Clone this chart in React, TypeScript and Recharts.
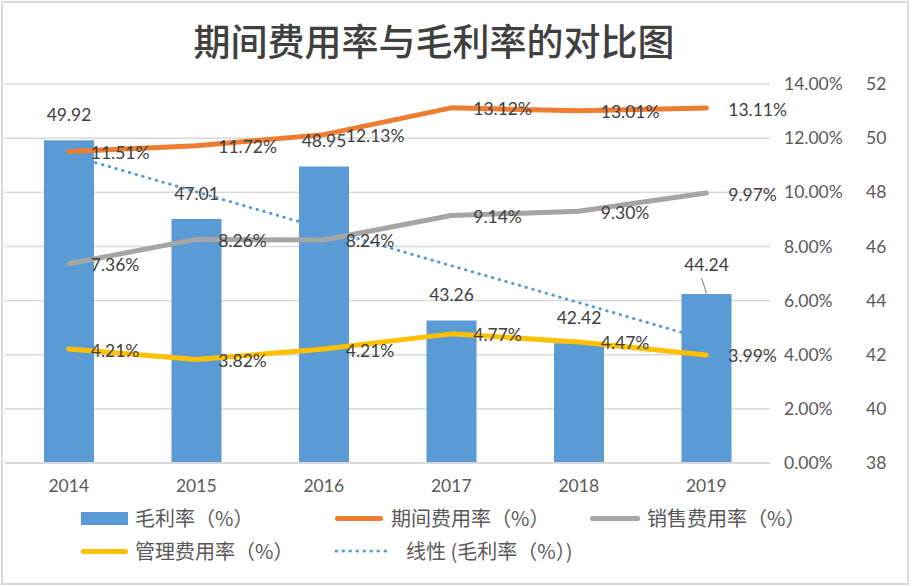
import React from 'react';
import { ComposedChart, Bar, Line, XAxis, YAxis, CartesianGrid, LabelList } from 'recharts';

const years = ['2014', '2015', '2016', '2017', '2018', '2019'];
const grossMargin = [49.92, 47.01, 48.95, 43.26, 42.42, 44.24];
const periodExpense = [11.51, 11.72, 12.13, 13.12, 13.01, 13.11];
const salesExpense = [7.36, 8.26, 8.24, 9.14, 9.3, 9.97];
const adminExpense = [4.21, 3.82, 4.21, 4.77, 4.47, 3.99];
const grossTrend = [49.38, null, null, null, null, 42.56];
const pctTicks = [0, 2, 4, 6, 8, 10, 12, 14];
const gmTicks = [38, 40, 42, 44, 46, 48, 50, 52];

const title = '期间费用率与毛利率的对比图';
const seriesNames = {
  gm: '毛利率（%）',
  period: '期间费用率（%）',
  sales: '销售费用率（%）',
  admin: '管理费用率（%）',
  trend: '线性 (毛利率（%）)',
};

const COLORS = {
  gm: '#5B9BD5',
  period: '#ED7D31',
  sales: '#A5A5A5',
  admin: '#FFC000',
  trend: '#5B9BD5',
};

const PCT_AXIS = 'a_pct';
const GM_AXIS = 'b_gm';

const data = years.map((y, i) => ({
  year: y,
  gm: grossMargin[i],
  period: periodExpense[i],
  sales: salesExpense[i],
  admin: adminExpense[i],
  trend: grossTrend[i],
}));

const NUM_FONT = 'Lato, "Noto Sans CJK SC", sans-serif';
const CJK_FONT = '"Noto Sans CJK SC", sans-serif';

const lineLabel = (props: any) => {
  const x = props.x ?? props.viewBox?.x;
  const y = props.y ?? props.viewBox?.y;
  const v = Number(props.value);
  return (
    <text x={x + 22} y={y + 1} dominantBaseline="central" fill="#404040" fontSize={17.5} fontFamily={NUM_FONT}>
      {v.toFixed(2) + '%'}
    </text>
  );
};

const barLabel = (props: any) => {
  const { x, y, width, value, index } = props;
  const cx = x + width / 2;
  const last = index === grossMargin.length - 1;
  const cy = last ? y - 30 : y - 26;
  return (
    <g>
      {last && <line x1={cx - 5} y1={y - 16} x2={cx} y2={y - 1} stroke="#8c8c8c" strokeWidth={1.2} />}
      <text x={cx} y={cy} textAnchor="middle" dominantBaseline="central" fill="#404040" fontSize={17.5} fontFamily={NUM_FONT}>
        {Number(value).toFixed(2)}
      </text>
    </g>
  );
};

const legendText: React.CSSProperties = {
  position: 'absolute',
  fontFamily: CJK_FONT,
  fontSize: 20,
  color: '#595959',
  lineHeight: '24px',
  whiteSpace: 'nowrap',
};

function LegendBlock() {
  const row1 = 518;
  const row2 = 551;
  return (
    <div style={{ position: 'absolute', left: 0, top: 0, width: 913, height: 586, pointerEvents: 'none' }}>
      <div style={{ position: 'absolute', left: 81, top: row1 - 6.5, width: 47, height: 13, background: COLORS.gm }} />
      <div style={{ ...legendText, left: 135, top: row1 - 12 }}>{seriesNames.gm}</div>

      <div style={{ position: 'absolute', left: 335, top: row1 - 2.5, width: 48, height: 5, borderRadius: 3, background: COLORS.period }} />
      <div style={{ ...legendText, left: 391, top: row1 - 12 }}>{seriesNames.period}</div>

      <div style={{ position: 'absolute', left: 590, top: row1 - 2.5, width: 50, height: 5, borderRadius: 3, background: COLORS.sales }} />
      <div style={{ ...legendText, left: 647, top: row1 - 12 }}>{seriesNames.sales}</div>

      <div style={{ position: 'absolute', left: 81, top: row2 - 2.5, width: 47, height: 5, borderRadius: 3, background: COLORS.admin }} />
      <div style={{ ...legendText, left: 135, top: row2 - 12 }}>{seriesNames.admin}</div>

      <svg style={{ position: 'absolute', left: 333, top: row2 - 4 }} width={60} height={8}>
        <line x1={3} y1={4} x2={58} y2={4} stroke={COLORS.trend} strokeWidth={3} strokeLinecap="round" strokeDasharray="0.5 6.5" />
      </svg>
      <div style={{ ...legendText, left: 406, top: row2 - 12 }}>{seriesNames.trend}</div>
    </div>
  );
}

export default function App() {
  return (
    <div style={{ position: 'absolute', left: 0, top: 0, width: 913, height: 586, background: '#fff', overflow: 'hidden' }}>
      <div
        style={{
          position: 'absolute',
          left: 1,
          top: 1,
          width: 904,
          height: 580,
          border: '2px solid #d9d9d9',
        }}
      />
      <div
        style={{
          position: 'absolute',
          left: 0,
          width: 868,
          top: 20,
          textAlign: 'center',
          fontFamily: CJK_FONT,
          fontSize: 37,
          fontWeight: 500,
          lineHeight: '40px',
          color: '#404040',
          whiteSpace: 'nowrap',
        }}
      >
        {title}
      </div>
      <div style={{ position: 'absolute', left: 0, top: 0 }}>
        <ComposedChart
          width={913}
          height={586}
          data={data}
          margin={{ top: 84, right: 15, bottom: 93, left: 5 }}
        >
          <CartesianGrid yAxisId={PCT_AXIS} vertical={false} stroke="#D9D9D9" strokeWidth={1.5} />
          <XAxis
            dataKey="year"
            height={30}
            axisLine={{ stroke: '#D9D9D9', strokeWidth: 2 }}
            tickLine={false}
            tickSize={0}
            tickMargin={17}
            tick={{ fill: '#595959', fontSize: 17.5, fontFamily: NUM_FONT }}
            interval={0}
          />
          <YAxis
            yAxisId={PCT_AXIS}
            orientation="right"
            domain={[0, 14]}
            ticks={pctTicks}
            tickFormatter={(v: number) => v.toFixed(2) + '%'}
            axisLine={false}
            tickLine={false}
            tickSize={0}
            tickMargin={14}
            width={88}
            tick={{ fill: '#595959', fontSize: 17.5, fontFamily: NUM_FONT, textAnchor: 'start' }}
            interval={0}
          />
          <YAxis
            yAxisId={GM_AXIS}
            orientation="right"
            domain={[38, 52]}
            ticks={gmTicks}
            axisLine={false}
            tickLine={false}
            tickSize={0}
            tickMargin={8}
            width={40}
            tick={{ fill: '#595959', fontSize: 17.5, fontFamily: NUM_FONT, textAnchor: 'start' }}
            interval={0}
          />
          <Line
            yAxisId={GM_AXIS}
            dataKey="trend"
            type="linear"
            connectNulls
            stroke={COLORS.trend}
            strokeWidth={3}
            strokeLinecap="round"
            strokeDasharray="0.5 6.5"
            dot={false}
            activeDot={false}
            isAnimationActive={false}
          />
          <Bar yAxisId={GM_AXIS} dataKey="gm" fill={COLORS.gm} barSize={50} isAnimationActive={false}>
            <LabelList dataKey="gm" content={barLabel} />
          </Bar>
          <Line
            yAxisId={PCT_AXIS}
            dataKey="period"
            type="linear"
            stroke={COLORS.period}
            strokeWidth={5}
            strokeLinecap="round"
            strokeLinejoin="round"
            dot={false}
            activeDot={false}
            isAnimationActive={false}
          >
            <LabelList dataKey="period" content={lineLabel} />
          </Line>
          <Line
            yAxisId={PCT_AXIS}
            dataKey="sales"
            type="linear"
            stroke={COLORS.sales}
            strokeWidth={5}
            strokeLinecap="round"
            strokeLinejoin="round"
            dot={false}
            activeDot={false}
            isAnimationActive={false}
          >
            <LabelList dataKey="sales" content={lineLabel} />
          </Line>
          <Line
            yAxisId={PCT_AXIS}
            dataKey="admin"
            type="linear"
            stroke={COLORS.admin}
            strokeWidth={5}
            strokeLinecap="round"
            strokeLinejoin="round"
            dot={false}
            activeDot={false}
            isAnimationActive={false}
          >
            <LabelList dataKey="admin" content={lineLabel} />
          </Line>
        </ComposedChart>
      </div>
      <LegendBlock />
    </div>
  );
}
